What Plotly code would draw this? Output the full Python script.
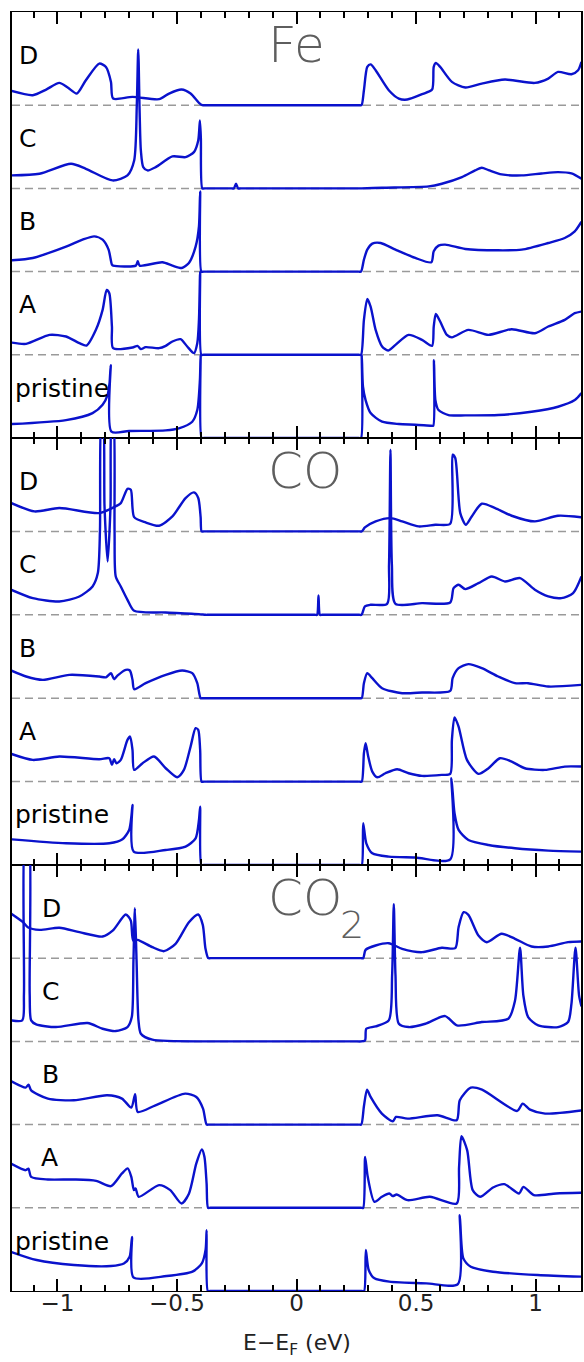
import plotly.graph_objects as go

# Energy window (eV) and the vertical spacing between stacked curves
E_MIN, E_MAX = -1.19, 1.19
Y_TOP = 5.12
CURVE_NAMES = ["pristine", "A", "B", "C", "D"]
CURVE_OFFSETS = [0, 1, 2, 3, 4]
PANEL_TITLES = ["Fe", "CO", "CO"]
TITLE_SUBSCRIPTS = ["", "", "2"]
TICK_VALUES = [-1, -0.5, 0, 0.5, 1]
TICK_TEXT = ["\u22121", "\u22120.5", "0", "0.5", "1"]

# ---- DOS curves, (E - E_F [eV], DOS [arb. units]) ----
# Fe adsorbed
fe_pristine = [(-1.193,0.168),(-0.964,0.216),(-0.853,0.30),(-0.811,0.40),(-0.790,0.52),(-0.782,0.66),(-0.777,0.876),(-0.774,0.076),(-0.700,0.085),(-0.547,0.092),(-0.492,0.116),(-0.436,0.196),(-0.415,0.336),(-0.404,0.70),(-0.401,1.0),(-0.397,0.0),(-0.387,0.0),(0.260,0.0),(0.270,0.0),(0.273,1.0),(0.278,0.62),(0.289,0.456),(0.310,0.30),(0.358,0.196),(0.428,0.168),(0.497,0.16),(0.564,0.148),(0.572,0.148),(0.575,0.936),(0.581,0.456),(0.594,0.336),(0.636,0.276),(0.706,0.272),(0.844,0.276),(0.983,0.316),(1.094,0.376),(1.164,0.456),(1.192,0.54)]
fe_a = [(-1.193,0.148),(-1.131,0.132),(-1.033,0.24),(-0.964,0.22),(-0.908,0.14),(-0.878,0.112),(-0.839,0.30),(-0.811,0.54),(-0.794,0.78),(-0.783,0.74),(-0.772,0.34),(-0.767,0.08),(-0.686,0.088),(-0.665,0.108),(-0.651,0.068),(-0.631,0.092),(-0.575,0.08),(-0.547,0.108),(-0.519,0.16),(-0.485,0.188),(-0.457,0.10),(-0.429,0.02),(-0.415,0.14),(-0.408,0.42),(-0.403,1.0),(-0.398,0.0),(-0.388,0.0),(0.260,0.0),(0.270,0.0),(0.282,0.42),(0.296,0.67),(0.310,0.58),(0.331,0.30),(0.358,0.10),(0.383,0.052),(0.414,0.12),(0.469,0.24),(0.525,0.18),(0.567,0.108),(0.574,0.34),(0.583,0.49),(0.601,0.40),(0.629,0.24),(0.650,0.21),(0.719,0.30),(0.803,0.24),(0.900,0.308),(0.997,0.26),(1.053,0.34),(1.122,0.42),(1.164,0.50),(1.192,0.52)]
fe_b = [(-1.193,0.136),(-1.103,0.164),(-0.964,0.30),(-0.895,0.384),(-0.846,0.424),(-0.811,0.384),(-0.786,0.264),(-0.772,0.084),(-0.767,0.072),(-0.672,0.072),(-0.664,0.124),(-0.656,0.072),(-0.561,0.112),(-0.519,0.072),(-0.480,0.044),(-0.450,0.104),(-0.422,0.30),(-0.408,0.544),(-0.403,0.964),(-0.398,0.0),(-0.388,0.0),(0.260,0.0),(0.270,0.0),(0.282,0.144),(0.296,0.264),(0.317,0.336),(0.352,0.344),(0.414,0.264),(0.497,0.164),(0.564,0.112),(0.574,0.244),(0.594,0.312),(0.622,0.324),(0.706,0.272),(0.844,0.256),(0.942,0.264),(1.053,0.344),(1.122,0.404),(1.164,0.484),(1.192,0.60)]
fe_c = [(-1.193,0.156),(-1.075,0.176),(-0.943,0.296),(-0.881,0.236),(-0.769,0.096),(-0.707,0.156),(-0.679,0.336),(-0.668,1.0),(-0.662,1.67),(-0.656,0.9),(-0.651,0.456),(-0.641,0.256),(-0.623,0.216),(-0.589,0.256),(-0.519,0.384),(-0.464,0.376),(-0.429,0.436),(-0.411,0.576),(-0.404,0.816),(-0.400,0.6),(-0.394,0.0),(-0.384,0.0),(-0.272,0.0),(-0.262,0.0),(-0.253,0.056),(-0.244,0.0),(-0.234,0.0),(0.262,0.0),(0.272,0.0),(0.358,0.008),(0.553,0.024),(0.608,0.056),(0.692,0.136),(0.747,0.216),(0.775,0.248),(0.803,0.22),(0.858,0.168),(0.942,0.156),(1.025,0.18),(1.094,0.196),(1.150,0.18),(1.192,0.116)]
fe_d = [(-1.193,0.172),(-1.103,0.12),(-1.047,0.188),(-0.992,0.268),(-0.957,0.212),(-0.919,0.14),(-0.881,0.30),(-0.825,0.50),(-0.797,0.46),(-0.776,0.28),(-0.767,0.08),(-0.686,0.10),(-0.575,0.072),(-0.533,0.14),(-0.481,0.188),(-0.443,0.14),(-0.408,0.028),(-0.394,0.0),(-0.384,0.0),(0.262,0.0),(0.272,0.0),(0.282,0.18),(0.296,0.46),(0.310,0.49),(0.331,0.42),(0.386,0.18),(0.428,0.08),(0.463,0.068),(0.525,0.132),(0.567,0.188),(0.574,0.46),(0.583,0.508),(0.601,0.46),(0.650,0.28),(0.706,0.212),(0.775,0.26),(0.872,0.308),(0.997,0.268),(1.053,0.32),(1.094,0.40),(1.150,0.372),(1.178,0.42),(1.192,0.52)]

# CO adsorbed
co_pristine = [(-1.193,0.308),(-0.964,0.26),(-0.783,0.26),(-0.728,0.308),(-0.700,0.42),(-0.690,0.60),(-0.686,0.72),(-0.681,0.16),(-0.547,0.18),(-0.464,0.22),(-0.422,0.32),(-0.408,0.54),(-0.403,0.70),(-0.398,0.0),(-0.388,0.0),(0.263,0.0),(0.273,0.0),(0.279,0.50),(0.292,0.26),(0.317,0.14),(0.386,0.10),(0.497,0.09),(0.643,0.068),(0.648,1.04),(0.661,0.62),(0.678,0.42),(0.719,0.30),(0.803,0.24),(0.914,0.20),(1.053,0.172),(1.192,0.16)]
co_a = [(-1.193,0.332),(-1.103,0.26),(-0.992,0.30),(-0.825,0.268),(-0.783,0.28),(-0.772,0.20),(-0.763,0.268),(-0.753,0.22),(-0.735,0.26),(-0.707,0.50),(-0.696,0.54),(-0.686,0.38),(-0.679,0.14),(-0.644,0.22),(-0.596,0.30),(-0.547,0.16),(-0.499,0.052),(-0.471,0.14),(-0.443,0.42),(-0.422,0.64),(-0.411,0.62),(-0.403,0.38),(-0.397,0.0),(-0.387,0.0),(0.263,0.0),(0.273,0.0),(0.282,0.34),(0.289,0.46),(0.300,0.30),(0.317,0.12),(0.338,0.052),(0.372,0.10),(0.421,0.148),(0.469,0.10),(0.525,0.068),(0.608,0.08),(0.643,0.092),(0.650,0.50),(0.661,0.77),(0.678,0.66),(0.713,0.26),(0.761,0.092),(0.803,0.16),(0.851,0.28),(0.900,0.24),(0.955,0.16),(1.039,0.14),(1.122,0.18),(1.192,0.18)]
co_b = [(-1.193,0.332),(-1.131,0.26),(-1.061,0.22),(-0.950,0.28),(-0.825,0.26),(-0.797,0.25),(-0.776,0.30),(-0.763,0.228),(-0.749,0.27),(-0.714,0.34),(-0.697,0.332),(-0.686,0.22),(-0.679,0.108),(-0.631,0.18),(-0.547,0.28),(-0.478,0.332),(-0.436,0.30),(-0.415,0.18),(-0.401,0.0),(-0.391,0.0),(0.263,0.0),(0.273,0.0),(0.282,0.18),(0.296,0.30),(0.317,0.24),(0.358,0.12),(0.442,0.06),(0.525,0.068),(0.643,0.088),(0.653,0.24),(0.678,0.36),(0.719,0.408),(0.775,0.36),(0.844,0.26),(0.914,0.18),(0.969,0.18),(1.053,0.14),(1.192,0.16)]
co_c = [(-1.193,0.30),(-1.103,0.20),(-0.992,0.16),(-0.908,0.22),(-0.853,0.34),(-0.831,0.50),(-0.822,1.02),(-0.815,2.4),(-0.810,2.4),(-0.803,1.3),(-0.790,0.64),(-0.778,1.3),(-0.772,2.4),(-0.767,2.4),(-0.761,1.0),(-0.756,0.46),(-0.735,0.34),(-0.707,0.18),(-0.679,0.048),(-0.547,0.028),(-0.408,0.008),(-0.380,0.0),(-0.370,0.0),(0.076,0.0),(0.086,0.0),(0.092,0.232),(0.098,0.0),(0.108,0.0),(0.262,0.0),(0.272,0.0),(0.286,0.10),(0.310,0.12),(0.379,0.132),(0.387,0.6),(0.393,1.98),(0.399,0.6),(0.414,0.132),(0.525,0.14),(0.643,0.148),(0.657,0.32),(0.678,0.36),(0.706,0.308),(0.761,0.38),(0.817,0.46),(0.872,0.40),(0.935,0.44),(0.997,0.30),(1.053,0.22),(1.108,0.20),(1.157,0.26),(1.192,0.46)]
co_d = [(-1.193,0.34),(-1.096,0.24),(-0.992,0.28),(-0.825,0.22),(-0.763,0.292),(-0.735,0.34),(-0.707,0.51),(-0.693,0.50),(-0.679,0.172),(-0.631,0.108),(-0.575,0.068),(-0.519,0.18),(-0.464,0.40),(-0.429,0.468),(-0.411,0.40),(-0.401,0.172),(-0.397,0.0),(-0.387,0.0),(0.263,0.0),(0.273,0.0),(0.286,0.048),(0.331,0.12),(0.393,0.16),(0.442,0.12),(0.511,0.06),(0.581,0.08),(0.643,0.092),(0.653,0.92),(0.664,0.88),(0.685,0.22),(0.708,0.08),(0.733,0.18),(0.775,0.332),(0.831,0.28),(0.900,0.188),(0.997,0.12),(1.094,0.188),(1.192,0.17)]

# CO2 adsorbed
co2_pristine = [(-1.195,0.472),(-1.087,0.372),(-0.931,0.312),(-0.776,0.30),(-0.722,0.33),(-0.698,0.412),(-0.688,0.65),(-0.682,0.164),(-0.543,0.18),(-0.435,0.232),(-0.396,0.332),(-0.380,0.5),(-0.376,0.73),(-0.371,0.0),(-0.361,0.0),(0.273,0.0),(0.283,0.0),(0.290,0.492),(0.302,0.252),(0.326,0.152),(0.388,0.112),(0.543,0.092),(0.675,0.084),(0.683,0.912),(0.698,0.392),(0.729,0.292),(0.822,0.232),(1.009,0.192),(1.192,0.172)]
co2_a = [(-1.195,0.533),(-1.133,0.452),(-1.121,0.47),(-1.110,0.372),(-1.040,0.34),(-0.931,0.34),(-0.838,0.324),(-0.776,0.26),(-0.730,0.413),(-0.706,0.473),(-0.691,0.372),(-0.680,0.212),(-0.673,0.232),(-0.660,0.132),(-0.575,0.272),(-0.528,0.212),(-0.481,0.052),(-0.450,0.17),(-0.419,0.533),(-0.396,0.70),(-0.385,0.61),(-0.376,0.29),(-0.370,0.0),(-0.360,0.0),(0.269,0.0),(0.279,0.0),(0.287,0.612),(0.298,0.372),(0.326,0.072),(0.357,0.132),(0.388,0.172),(0.403,0.14),(0.419,0.16),(0.465,0.092),(0.558,0.132),(0.670,0.052),(0.680,0.49),(0.690,0.86),(0.714,0.69),(0.737,0.212),(0.768,0.132),(0.822,0.244),(0.869,0.284),(0.931,0.172),(0.949,0.252),(0.993,0.152),(1.086,0.172),(1.192,0.18)]
co2_b = [(-1.195,0.523),(-1.133,0.444),(-1.121,0.48),(-1.110,0.412),(-1.040,0.312),(-0.931,0.292),(-0.792,0.352),(-0.730,0.312),(-0.691,0.204),(-0.675,0.364),(-0.664,0.152),(-0.590,0.232),(-0.466,0.372),(-0.419,0.332),(-0.391,0.192),(-0.376,0.0),(-0.366,0.0),(0.261,0.0),(0.271,0.0),(0.282,0.22),(0.295,0.42),(0.310,0.332),(0.357,0.132),(0.403,0.04),(0.416,0.092),(0.465,0.072),(0.590,0.112),(0.670,0.052),(0.683,0.292),(0.729,0.444),(0.776,0.42),(0.923,0.164),(0.946,0.252),(0.977,0.18),(1.040,0.132),(1.192,0.17)]
co2_c = [(-1.193,0.252),(-1.147,0.252),(-1.140,0.57),(-1.133,2.6),(-1.122,2.6),(-1.116,0.57),(-1.110,0.252),(-1.089,0.204),(-1.006,0.172),(-0.874,0.22),(-0.811,0.152),(-0.756,0.124),(-0.707,0.172),(-0.689,0.292),(-0.682,0.97),(-0.676,1.6),(-0.669,0.97),(-0.661,0.252),(-0.651,0.092),(-0.603,0.02),(-0.381,0.0),(-0.371,0.0),(0.237,0.0),(0.247,0.0),(0.286,0.008),(0.292,0.152),(0.331,0.18),(0.386,0.252),(0.400,0.8),(0.407,1.65),(0.414,0.8),(0.428,0.212),(0.469,0.172),(0.539,0.212),(0.622,0.304),(0.671,0.192),(0.775,0.232),(0.886,0.272),(0.914,0.49),(0.935,1.125),(0.949,0.55),(0.969,0.292),(1.011,0.192),(1.094,0.172),(1.136,0.232),(1.150,0.45),(1.167,1.125),(1.182,0.55),(1.192,0.42)]
co2_d = [(-1.193,0.533),(-1.144,0.432),(-1.124,0.372),(-1.075,0.34),(-0.992,0.365),(-0.908,0.312),(-0.811,0.26),(-0.769,0.33),(-0.714,0.525),(-0.693,0.45),(-0.683,0.212),(-0.665,0.22),(-0.603,0.132),(-0.554,0.084),(-0.506,0.172),(-0.450,0.432),(-0.411,0.525),(-0.392,0.4),(-0.381,0.12),(-0.369,0.0),(-0.359,0.0),(0.269,0.0),(0.279,0.0),(0.289,0.10),(0.331,0.152),(0.386,0.18),(0.442,0.112),(0.525,0.072),(0.608,0.125),(0.664,0.12),(0.678,0.372),(0.699,0.552),(0.719,0.52),(0.761,0.272),(0.796,0.192),(0.858,0.293),(0.914,0.233),(0.983,0.14),(1.053,0.14),(1.136,0.192),(1.192,0.2)]

panels = [
    [fe_pristine, fe_a, fe_b, fe_c, fe_d],
    [co_pristine, co_a, co_b, co_c, co_d],
    [co2_pristine, co2_a, co2_b, co2_c, co2_d],
]

# ---- styling ----
LINE_BLUE = "#0a12cc"
DASH_GREY = "#9a9a9a"
TITLE_GREY = "#5e5e5e"
FONT = "DejaVu Sans"
# panel domains (top to bottom), in paper fractions
DOMAINS = [[0.6669, 1.0], [0.3331, 0.6669], [0.0, 0.3331]]
LABEL_X = [[-1.1875, -1.171, -1.171, -1.171, -1.171],
           [-1.1875, -1.171, -1.171, -1.171, -1.171],
           [-1.1875, -1.078, -1.071, -1.071, -1.071]]
LABEL_DY = 0.60
TITLE_X = -0.128
TITLE_Y = 4.72
SUB_X = 0.172
SUB_Y = 4.40

fig = go.Figure()

for p, curves in enumerate(panels):
    xa = "x" if p == 0 else f"x{p + 1}"
    ya = "y" if p == 0 else f"y{p + 1}"
    # dashed zero line of each shifted curve
    for off in CURVE_OFFSETS[1:]:
        fig.add_trace(go.Scatter(
            x=[E_MIN, E_MAX], y=[off, off], mode="lines",
            line=dict(color=DASH_GREY, width=1.5, dash="8px,5px"),
            xaxis=xa, yaxis=ya, hoverinfo="skip"))
    for off, pts in zip(CURVE_OFFSETS, curves):
        e_vals = [pt[0] for pt in pts]
        dos_vals = [pt[1] + off for pt in pts]
        fig.add_trace(go.Scatter(
            x=e_vals, y=dos_vals, mode="lines",
            line=dict(color=LINE_BLUE, width=2.4, shape="spline", smoothing=0.7),
            xaxis=xa, yaxis=ya))
    # curve labels
    for k, (name, off) in enumerate(zip(CURVE_NAMES, CURVE_OFFSETS)):
        fig.add_annotation(
            x=LABEL_X[p][k], y=off + LABEL_DY, xref=xa, yref=ya,
            text=name, showarrow=False, xanchor="left", yanchor="middle",
            font=dict(family=FONT, size=25, color="black"))
    # panel title (large light grey), with an enlarged subscript for CO2
    fig.add_annotation(
        x=TITLE_X, y=TITLE_Y, xref=xa, yref=ya, text=PANEL_TITLES[p],
        showarrow=False, xanchor="left", yanchor="middle",
        font=dict(family=FONT, size=50, color=TITLE_GREY, weight=200))
    if TITLE_SUBSCRIPTS[p]:
        fig.add_annotation(
            x=SUB_X, y=SUB_Y, xref=xa, yref=ya, text=TITLE_SUBSCRIPTS[p],
            showarrow=False, xanchor="left", yanchor="middle",
            font=dict(family=FONT, size=38, color=TITLE_GREY, weight=200))

# axis title under the bottom panel
fig.add_annotation(
    x=0.5, y=-0.042, xref="paper", yref="paper",
    text="E\u2212E<sub>F</sub> (eV)", showarrow=False,
    xanchor="center", yanchor="middle",
    font=dict(family=FONT, size=22, color="#222222"))

axis_common = dict(
    range=[E_MIN, E_MAX], showgrid=False, zeroline=False,
    showline=True, linecolor="black", linewidth=1.2, mirror="ticks",
    ticks="inside", ticklen=12, tickwidth=1.6, tickcolor="black",
    tickvals=TICK_VALUES, ticktext=TICK_TEXT,
    minor=dict(dtick=0.1, tick0=0, ticks="inside", ticklen=6,
               tickwidth=1.6, tickcolor="black"),
)
yaxis_common = dict(
    range=[0, Y_TOP], showgrid=False, zeroline=False, showline=True,
    linecolor="black", linewidth=1.5, mirror=True, ticks="",
    showticklabels=False, fixedrange=True,
)

layout = dict(
    width=584, height=1362,
    margin=dict(l=12, r=1, t=12, b=71),
    paper_bgcolor="white", plot_bgcolor="white",
    showlegend=False,
)
for p in range(3):
    xkey = "xaxis" if p == 0 else f"xaxis{p + 1}"
    ykey = "yaxis" if p == 0 else f"yaxis{p + 1}"
    ya = "y" if p == 0 else f"y{p + 1}"
    xa = dict(axis_common, anchor=ya, showticklabels=(p == 2))
    if p > 0:
        xa["matches"] = "x"
    if p == 2:
        xa["tickfont"] = dict(family=FONT, size=23, color="#222222")
        xa["ticklabelstandoff"] = -9
    layout[xkey] = xa
    layout[ykey] = dict(yaxis_common, domain=DOMAINS[p],
                        anchor="x" if p == 0 else f"x{p + 1}")

fig.update_layout(**layout)
fig.write_html("out.html")
